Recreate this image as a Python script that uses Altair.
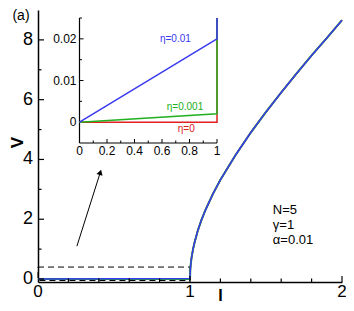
import altair as alt
import pandas as pd

# ---------------- data ----------------
# main panel: current I vs voltage V
I_pre = [0.0, 1.0]
V_pre_red = [0.0, 0.0]
V_pre_green = [0.0, 0.002]
V_pre_blue = [0.0, 0.02]
I_curve = [1.0, 1.002, 1.005, 1.01, 1.02, 1.03, 1.05, 1.075, 1.1, 1.15, 1.2,
           1.3, 1.4, 1.5, 1.6, 1.7, 1.8, 1.9, 2.0]
V_curve = [0.0, 0.32, 0.5, 0.71, 1.0, 1.22, 1.6, 1.97, 2.29, 2.84, 3.32,
           4.15, 4.9, 5.59, 6.24, 6.87, 7.48, 8.06, 8.66]

# inset: zoom of the region I<=1
inset_I = [0.0, 1.0, 1.0]
inset_red = [0.0, 0.0, 0.025]
inset_green = [0.0, 0.002, 0.025]
inset_blue = [0.0, 0.02, 0.025]
inset_label_text = ["η=0.01", "η=0.001", "η=0"]
inset_label_x = [0.585, 0.635, 0.715]
inset_label_y = [0.02, 0.0037, -0.0017]

# dashed zoom box and arrow
box_I = [0.0, 1.0]
box_V = [-0.05, 0.4]
arrow_I = [0.256, 0.41]
arrow_V = [1.1, 3.57]

# parameters text
param_text = ["N=5", "γ=1", "α=0.01"]
param_I = [1.545, 1.545, 1.545]
param_V = [2.32, 1.8, 1.32]

# ticks
main_x_labels = [0, 1, 2]
main_x_label_text = ["0", "1", "2"]
main_x_major = [1, 2]
main_x_minor = [0.2, 0.4, 0.6, 0.8, 1.2, 1.4, 1.6, 1.8]
main_y_labels = [0, 2, 4, 6, 8]
main_y_label_text = ["0", "2", "4", "6", "8"]
main_y_major = [0, 2, 4, 6, 8]
main_y_minor = [1, 3, 5, 7]
inset_x_major = [0, 0.2, 0.4, 0.6, 0.8, 1.0]
inset_x_major_text = ["0", "0.2", "0.4", "0.6", "0.8", "1"]
inset_x_minor = [0.1, 0.3, 0.5, 0.7, 0.9]
inset_y_major = [0, 0.01, 0.02]
inset_y_major_text = ["0", "0.01", "0.02"]
inset_y_minor = [0.005, 0.015, 0.025]

RED = "#e02020"
GREEN = "#20b020"
BLUE = "#3838f0"
FONT = "Liberation Sans"

W, H = 304, 272
# inset placement inside the plot area (pixels)
IX0, IX1 = 41.5, 179
IY0, IY1 = 133, 8

# ---------------- main panel ----------------
xs = alt.Scale(domain=[0, 2], nice=False, zero=False)
ys = alt.Scale(domain=[-0.1, 9], nice=False, zero=False)

def series(pre_v):
    return pd.DataFrame({"I": I_pre + I_curve, "V": pre_v + V_curve,
                         "o": list(range(len(I_pre) + len(I_curve)))})

base_axis_x = alt.Axis(values=main_x_labels, ticks=False, labels=False, grid=False,
                       domainColor="black", domainWidth=1.5,
                       title="I", titleFont=FONT, titleFontSize=16, titleFontWeight="bold",
                       titleX=182, titleY=13, titleBaseline="middle")
base_axis_y = alt.Axis(values=main_y_labels, ticks=False, labels=False, grid=False,
                       domainColor="black", domainWidth=1.5,
                       title="V", titleFont=FONT, titleFontSize=17, titleFontWeight="bold",
                       titleAngle=270, titleX=-21, titleY=132, titleBaseline="middle")

red_main = alt.Chart(series(V_pre_red)).mark_line(color=RED, strokeWidth=1.6).encode(
    x=alt.X("I:Q", scale=xs, axis=base_axis_x),
    y=alt.Y("V:Q", scale=ys, axis=base_axis_y),
    order="o:Q")
green_main = alt.Chart(series(V_pre_green)).mark_line(color=GREEN, strokeWidth=2).encode(
    x=alt.X("I:Q", scale=xs), y=alt.Y("V:Q", scale=ys), order="o:Q")
blue_main = alt.Chart(series(V_pre_blue)).mark_line(color=BLUE, strokeWidth=1.5).encode(
    x=alt.X("I:Q", scale=xs), y=alt.Y("V:Q", scale=ys), order="o:Q")

box = alt.Chart(pd.DataFrame({"I": [box_I[0]], "I2": [box_I[1]],
                              "V": [box_V[0]], "V2": [box_V[1]]})).mark_rect(
    filled=False, stroke="black", strokeWidth=1, strokeDash=[6, 4]).encode(
    x=alt.X("I:Q", scale=xs), x2="I2:Q", y=alt.Y("V:Q", scale=ys), y2="V2:Q")

arrow_df = pd.DataFrame({"I": arrow_I, "V": arrow_V, "o": [0, 1]})
arrow_line = alt.Chart(arrow_df).mark_line(color="black", strokeWidth=1).encode(
    x=alt.X("I:Q", scale=xs), y=alt.Y("V:Q", scale=ys), order="o:Q")
arrow_head = alt.Chart(arrow_df.iloc[[1]]).mark_point(
    shape="triangle-up", angle=17.5, size=40, filled=True, color="black", opacity=1).encode(
    x=alt.X("I:Q", scale=xs), y=alt.Y("V:Q", scale=ys))

params = alt.Chart(pd.DataFrame({"I": param_I, "V": param_V, "t": param_text})).mark_text(
    align="left", baseline="middle", fontSize=13, font=FONT, color="black").encode(
    x=alt.X("I:Q", scale=xs), y=alt.Y("V:Q", scale=ys), text="t:N")

def yticks(vals, length):
    return alt.Chart(pd.DataFrame({"V": vals})).mark_rule(color="black", strokeWidth=1.2).encode(
        y=alt.Y("V:Q", scale=ys), x=alt.value(0), x2=alt.value(length))

def xticks(vals, length):
    return alt.Chart(pd.DataFrame({"I": vals})).mark_rule(color="black", strokeWidth=1.2).encode(
        x=alt.X("I:Q", scale=xs), y=alt.value(H), y2=alt.value(H - length))

x_labels = alt.Chart(pd.DataFrame({"I": main_x_labels, "t": main_x_label_text})).mark_text(
    align="center", baseline="top", fontSize=17, font=FONT, color="black").encode(
    x=alt.X("I:Q", scale=xs), y=alt.value(H + 2), text="t:N")
y_labels = alt.Chart(pd.DataFrame({"V": main_y_labels, "t": main_y_label_text})).mark_text(
    align="right", baseline="middle", fontSize=18, font=FONT, color="black").encode(
    y=alt.Y("V:Q", scale=ys), x=alt.value(-5), text="t:N")

panel_label = alt.Chart(pd.DataFrame({"t": ["(a)"]})).mark_text(
    align="center", baseline="middle", fontSize=14, font=FONT, color="black").encode(
    x=alt.value(-17), y=alt.value(6), text="t:N")

main = alt.layer(red_main, box, arrow_line, arrow_head, green_main, blue_main, params,
                 yticks(main_y_major, 6), yticks(main_y_minor, 3.5),
                 xticks(main_x_major, 6), xticks(main_x_minor, 3.5),
                 x_labels, y_labels, panel_label)

# ---------------- inset ----------------
ixs = alt.Scale(domain=[0, 1], range=[IX0, IX1], nice=False, zero=False)
iys = alt.Scale(domain=[-0.005, 0.025], range=[IY0, IY1], nice=False, zero=False)

def inset_line(vals, color):
    df = pd.DataFrame({"x": inset_I, "y": vals, "o": [0, 1, 2]})
    return alt.Chart(df).mark_line(color=color, strokeWidth=1.5).encode(
        x=alt.X("x:Q", scale=ixs, axis=None), y=alt.Y("y:Q", scale=iys, axis=None), order="o:Q")

inset_axes = alt.Chart(pd.DataFrame({"x": [0, 0], "x2": [1, 0],
                                     "y": [-0.005, -0.005], "y2": [-0.005, 0.025]})).mark_rule(
    color="black", strokeWidth=1.2).encode(
    x=alt.X("x:Q", scale=ixs, axis=None), x2="x2:Q",
    y=alt.Y("y:Q", scale=iys, axis=None), y2="y2:Q")

def iyticks(vals, length):
    return alt.Chart(pd.DataFrame({"y": vals})).mark_rule(color="black", strokeWidth=1).encode(
        y=alt.Y("y:Q", scale=iys, axis=None), x=alt.value(IX0), x2=alt.value(IX0 + length))

def ixticks(vals, length):
    return alt.Chart(pd.DataFrame({"x": vals})).mark_rule(color="black", strokeWidth=1).encode(
        x=alt.X("x:Q", scale=ixs, axis=None), y=alt.value(IY0), y2=alt.value(IY0 - length))

iy_labels = alt.Chart(pd.DataFrame({"y": inset_y_major, "t": inset_y_major_text})).mark_text(
    align="right", baseline="middle", fontSize=12, font=FONT, color="black").encode(
    y=alt.Y("y:Q", scale=iys, axis=None), x=alt.value(IX0 - 3), text="t:N")
ix_labels = alt.Chart(pd.DataFrame({"x": inset_x_major, "t": inset_x_major_text})).mark_text(
    align="center", baseline="top", fontSize=12, font=FONT, color="black").encode(
    x=alt.X("x:Q", scale=ixs, axis=None), y=alt.value(IY0 + 3), text="t:N")

eta_labels = alt.Chart(pd.DataFrame({"x": inset_label_x, "y": inset_label_y,
                                     "t": inset_label_text, "c": [BLUE, GREEN, RED]})).mark_text(
    align="left", baseline="middle", fontSize=10, font=FONT).encode(
    x=alt.X("x:Q", scale=ixs, axis=None), y=alt.Y("y:Q", scale=iys, axis=None),
    text="t:N", color=alt.Color("c:N", scale=None))

inset = alt.layer(inset_axes, iyticks(inset_y_major, 4), iyticks(inset_y_minor, 2.5),
                  ixticks(inset_x_major, 4), ixticks(inset_x_minor, 2.5),
                  inset_line(inset_red, RED), inset_line(inset_green, GREEN),
                  inset_line(inset_blue, BLUE), iy_labels, ix_labels, eta_labels)

chart = alt.layer(main, inset).resolve_scale(x="independent", y="independent").properties(
    width=W, height=H, autosize="none",
    padding={"left": 30, "top": 2, "right": 4, "bottom": 21},
    background="white").configure_view(stroke=None)

chart.save("out.html", embed_options={"renderer": "svg", "actions": False})
